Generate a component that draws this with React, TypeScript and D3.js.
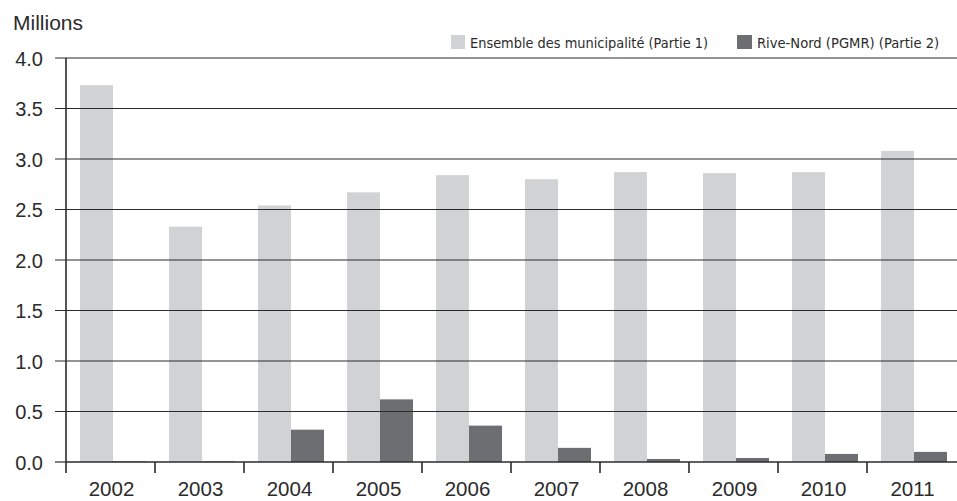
import * as React from 'react'
import * as d3 from 'd3'

const width = 957
const height = 501
const margin = { top: 58, right: 1, bottom: 39, left: 66 }

const years = ['2002', '2003', '2004', '2005', '2006', '2007', '2008', '2009', '2010', '2011']
const partie1 = [3.73, 2.33, 2.54, 2.67, 2.84, 2.8, 2.87, 2.86, 2.87, 3.08]
const partie2 = [0.006, 0.006, 0.32, 0.62, 0.36, 0.14, 0.03, 0.04, 0.08, 0.1]
const seriesNames = ['Ensemble des municipalité (Partie 1)', 'Rive-Nord (PGMR) (Partie 2)']
const yTicks = [0, 0.5, 1, 1.5, 2, 2.5, 3, 3.5, 4]

const light = '#d1d2d4'
const dark = '#6d6e71'
const ink = '#2b2b2b'
const font = '"Liberation Sans", Arial, sans-serif'
const condensed = '"DejaVu Sans Condensed", "Liberation Sans Narrow", sans-serif'

const App = () => {
  const x0 = d3
    .scaleBand()
    .domain(years)
    .range([margin.left, width - margin.right])
  const x1 = d3
    .scaleBand()
    .domain(['p1', 'p2'])
    .range([14, 80])
  const y = d3
    .scaleLinear()
    .domain([0, 4])
    .range([height - margin.bottom, margin.top])

  const series = [
    { key: 'p1', values: partie1, color: light },
    { key: 'p2', values: partie2, color: dark },
  ]

  const base = y(0)

  return (
    <svg width={width} height={height} style={{ position: 'absolute', left: 0, top: 0 }}>
      <text x={13} y={30} fontFamily={font} fontSize={21} fill={ink}>
        Millions
      </text>

      {/* legend */}
      <rect x={451} y={35} width={14} height={14} fill={light} />
      <text x={470} y={48} fontFamily={condensed} fontSize={14.4} fill={ink}>
        {seriesNames[0]}
      </text>
      <rect x={737} y={35} width={15} height={14} fill={dark} />
      <text x={757} y={48} fontFamily={condensed} fontSize={14.6} fill={ink}>
        {seriesNames[1]}
      </text>

      {/* bars */}
      {series.map(s =>
        years.map((yr, i) => (
          <rect
            key={s.key + yr}
            x={(x0(yr) ?? 0) + (x1(s.key) ?? 0)}
            y={y(s.values[i])}
            width={x1.bandwidth()}
            height={base - y(s.values[i])}
            fill={s.color}
          />
        ))
      )}

      {/* grid + y ticks */}
      {yTicks.map(t => (
        <g key={t}>
          {t > 0 && (
            <line x1={55} x2={width} y1={y(t)} y2={y(t)} stroke={ink} strokeWidth={1.2} />
          )}
          {t === 0 && <line x1={55} x2={margin.left} y1={y(t)} y2={y(t)} stroke={ink} strokeWidth={1.2} />}
          <text
            x={43}
            y={y(t) + 7.5}
            textAnchor="end"
            fontFamily={font}
            fontSize={20}
            fill={ink}
          >
            {t.toFixed(1)}
          </text>
        </g>
      ))}

      {/* x axis */}
      <line x1={margin.left} x2={width} y1={base} y2={base} stroke={ink} strokeWidth={1.6} />
      <line x1={margin.left} x2={margin.left} y1={margin.top} y2={base + 11} stroke={ink} strokeWidth={1.6} />
      {years.map(yr => (
        <g key={yr}>
          {yr !== years[0] && (
            <line
              x1={x0(yr) ?? 0}
              x2={x0(yr) ?? 0}
              y1={base}
              y2={base + 11}
              stroke={ink}
              strokeWidth={1.6}
            />
          )}
          <text
            x={(x0(yr) ?? 0) + x0.bandwidth() / 2 + 1}
            y={496}
            textAnchor="middle"
            fontFamily={font}
            fontSize={20.5}
            fill={ink}
          >
            {yr}
          </text>
        </g>
      ))}
    </svg>
  )
}

export default App
